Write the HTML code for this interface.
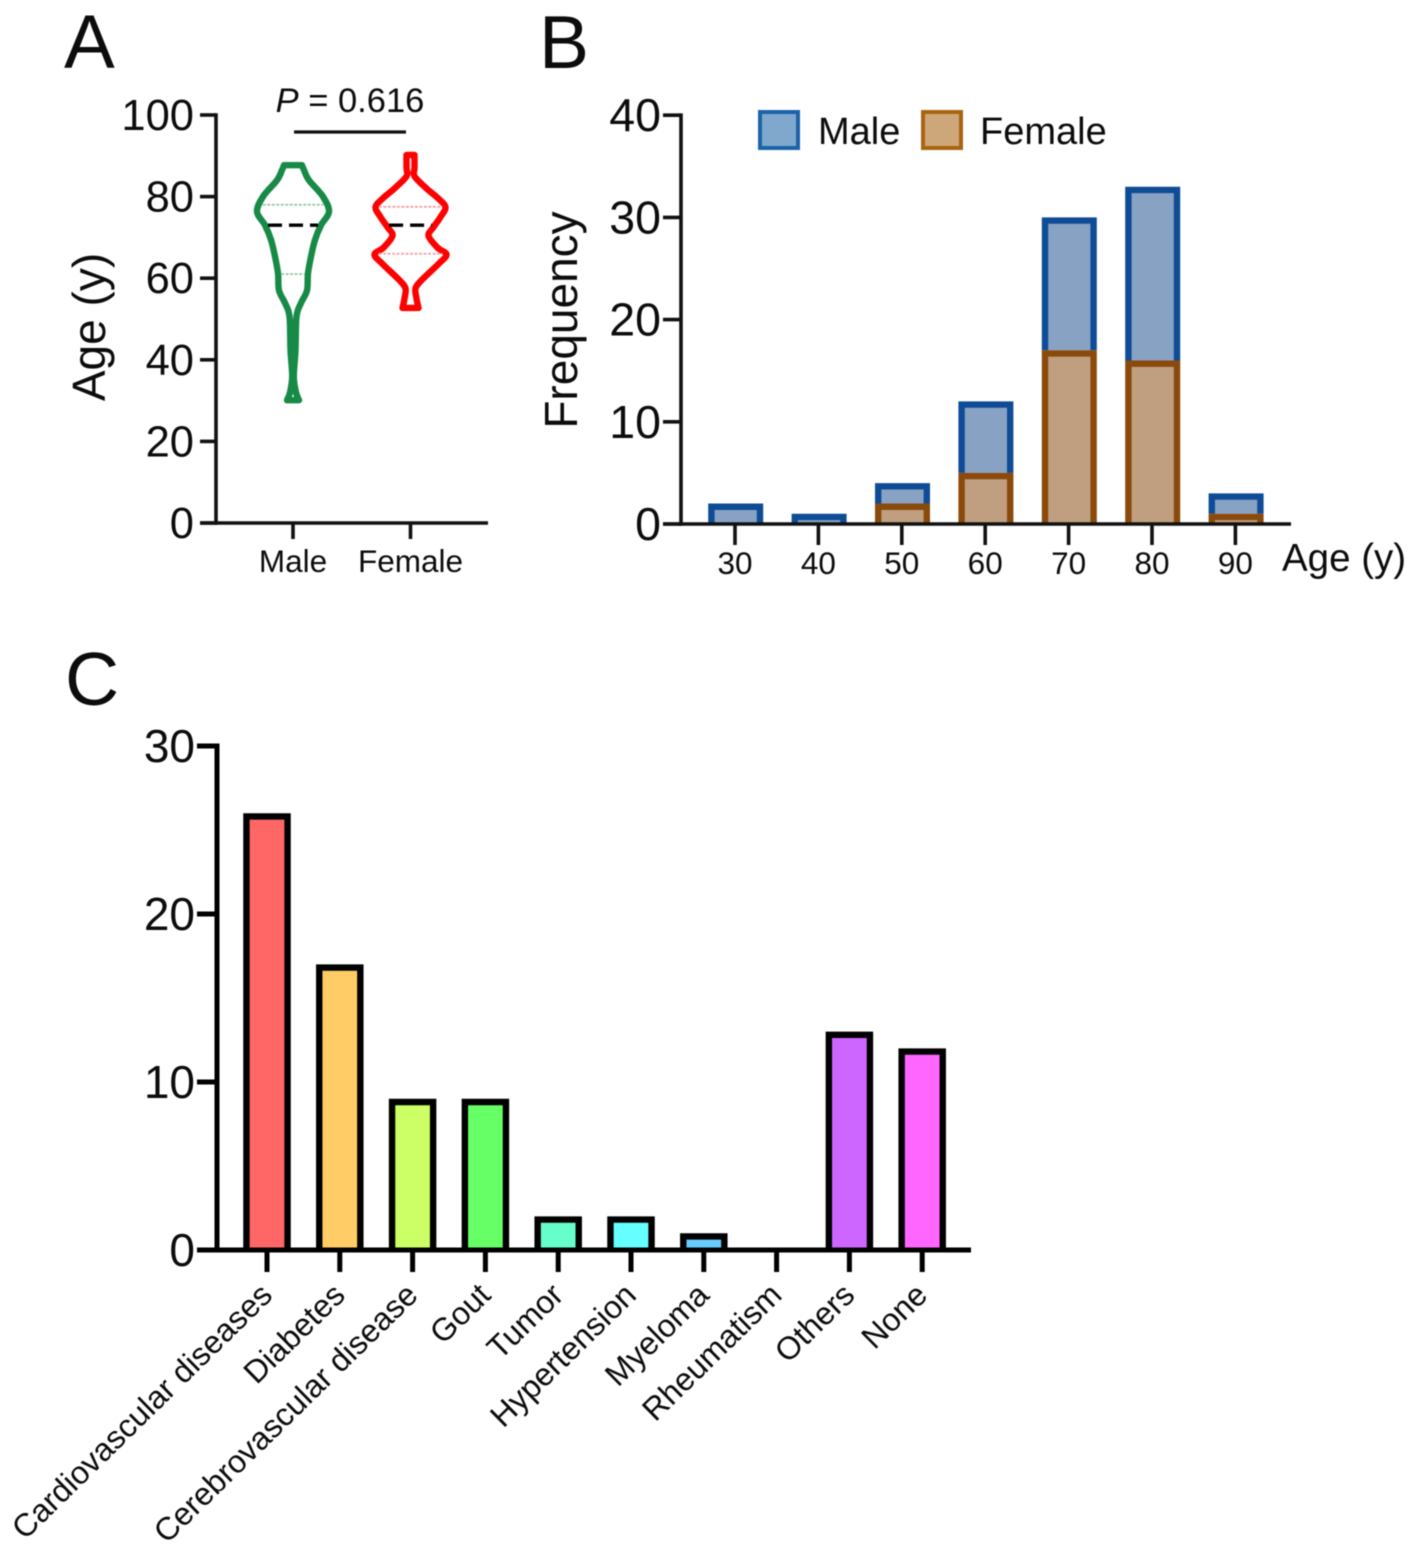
<!DOCTYPE html>
<html lang="en">
<head>
<meta charset="utf-8">
<title>Age, sex and comorbidity charts</title>
<style>
html,body{margin:0;padding:0;background:#fff;width:1418px;height:1553px;overflow:hidden}
svg{display:block;filter:blur(.6px)}
text{font-family:"Liberation Sans",Arial,sans-serif;fill:#0c0c0c}
</style>
</head>
<body>
<svg id="fig" xmlns="http://www.w3.org/2000/svg" width="1418" height="1553" viewBox="0 0 1418 1553">
  <rect width="1418" height="1553" fill="#fff"/>
  <text x="64" y="68" font-size="76">A</text>
  <text x="539" y="68" font-size="75">B</text>
  <text x="65" y="705" font-size="75">C</text>
  <text transform="translate(105,327) rotate(-90)" text-anchor="middle" font-size="46">Age (y)</text>
  <text transform="translate(577,320) rotate(-90)" text-anchor="middle" font-size="46">Frequency</text>
  <text x="1282" y="571" font-size="38.5">Age (y)</text>
  <text x="350" y="112" text-anchor="middle" font-size="34.5"><tspan font-style="italic">P</tspan> = 0.616</text>
  <line x1="294" x2="406" y1="132" y2="132" stroke="#111" stroke-width="3.2"/>
  <g>
    <rect x="760" y="112" width="38" height="36" fill="#80a8cc" stroke="#1a63a8" stroke-width="4"/>
    <text x="818" y="144" font-size="38">Male</text>
    <rect x="923" y="112" width="38" height="36" fill="#cda67a" stroke="#a8640f" stroke-width="4"/>
    <text x="980" y="144" font-size="38">Female</text>
  </g>
  <g id="panelA"></g>
  <g id="panelB"></g>
  <g id="panelC"></g>
</svg>
<script>
// Panel A data
const violinGroups = ['Male', 'Female'];
const ageTicks = [0, 20, 40, 60, 80, 100];
const maleAges = [87.7, 86.5, 84, 80, 76.3, 73, 69.4, 65.3, 61.2, 57, 53.9, 50.6, 42.4, 35.9, 32, 30.1];
const maleDensity = [9, 11, 16, 30, 36, 28, 22, 18, 15, 14, 8, 3.5, 2.5, 0.8, 3, 6];
const femaleAges = [90.2, 87, 85, 82, 79.5, 77.4, 75, 72.5, 70.4, 67.5, 65.8, 63.5, 59.5, 57.5, 55, 52.7];
const femaleDensity = [4, 4, 4, 16, 28, 35, 30, 23, 18, 27, 36, 28, 11, 5, 6, 8];
const maleQuartiles = [61, 73, 78];
const femaleQuartiles = [66, 73, 77.5];

// Panel B data
const decades = ['30', '40', '50', '60', '70', '80', '90'];
const freqTicks = [0, 10, 20, 30, 40];
const maleCounts = [2, 1, 2, 7, 13, 17, 2];
const femaleCounts = [0, 0, 2, 5, 17, 16, 1];

// Panel C data
const diseases = ['Cardiovascular diseases', 'Diabetes', 'Cerebrovascular disease', 'Gout', 'Tumor', 'Hypertension', 'Myeloma', 'Rheumatism', 'Others', 'None'];
const diseaseCounts = [26, 17, 9, 9, 2, 2, 1, 0, 13, 12];
const diseaseColors = ['#ff6666', '#ffcc66', '#ccff66', '#66ff66', '#66ffcc', '#66ffff', '#66ccff', '#6666ff', '#cc66ff', '#ff66ff'];
const diseaseTicks = [0, 10, 20, 30];

const NS = 'http://www.w3.org/2000/svg';
function make(parent, tag, props) {
  const node = document.createElementNS(NS, tag);
  for (const key in props) node.setAttribute(key, props[key]);
  parent.appendChild(node);
  return node;
}
// Open-bottomed bar: fill reaches the axis, stroke only on the top and sides.
function barPath(left, right, top, bottom) {
  const t = Math.min(top, bottom);
  return 'M' + left + ' ' + bottom + 'V' + t + 'H' + right + 'V' + bottom;
}
// Smooth curve segments through a list of [x,y] points (Catmull-Rom).
function smooth(pts) {
  let d = '';
  for (let i = 0; i < pts.length - 1; i++) {
    const p0 = pts[Math.max(i - 1, 0)];
    const p1 = pts[i];
    const p2 = pts[i + 1];
    const p3 = pts[Math.min(i + 2, pts.length - 1)];
    const c1x = p1[0] + (p2[0] - p0[0]) / 6;
    const c1y = p1[1] + (p2[1] - p0[1]) / 6;
    const c2x = p2[0] - (p3[0] - p1[0]) / 6;
    const c2y = p2[1] - (p3[1] - p1[1]) / 6;
    d += 'C' + c1x + ' ' + c1y + ' ' + c2x + ' ' + c2y + ' ' + p2[0] + ' ' + p2[1];
  }
  return d;
}

/* ---------- Panel A ---------- */
const gA = document.getElementById('panelA');
const yA = v => 523 - v * 4.08;
const xA = i => 293 + i * 117.5;
const violinStyles = [
  {ages: maleAges, dens: maleDensity, q: maleQuartiles, stroke: '#178a47', dash: '#8fc9a5', name: 'male'},
  {ages: femaleAges, dens: femaleDensity, q: femaleQuartiles, stroke: '#ff0000', dash: '#f4a0a8', name: 'female'}
];
function halfWidth(ages, dens, v) {
  for (let k = 0; k < ages.length - 1; k++) {
    if (v <= ages[k] && v >= ages[k + 1]) {
      const t = (ages[k] - v) / (ages[k] - ages[k + 1]);
      return dens[k] + (dens[k + 1] - dens[k]) * t;
    }
  }
  return 0;
}
violinStyles.forEach((s, i) => {
  const cx = xA(i);
  const right = s.ages.map((a, k) => [cx + s.dens[k], yA(a)]);
  const left = s.ages.map((a, k) => [cx - s.dens[k], yA(a)]).reverse();
  const d = 'M' + right[0][0] + ' ' + right[0][1] + smooth(right) + 'L' + left[0][0] + ' ' + left[0][1] + smooth(left) + 'Z';
  const outline = make(gA, 'path', {d: d, fill: '#fff', stroke: s.stroke, 'stroke-width': 6.4, 'stroke-linejoin': 'round'});
  
  
  s.q.forEach((v, qi) => {
    const w = halfWidth(s.ages, s.dens, v) - 3;
    const isMedian = qi === 1;
    const line = make(gA, 'line', {x1: cx - w, x2: cx + w, y1: yA(v), y2: yA(v), stroke: isMedian ? '#000' : s.dash, 'stroke-width': isMedian ? 3.4 : 1.8, 'stroke-dasharray': isMedian ? '14 7' : '3 1.5'});
    
    
  });
});
const axisYA = make(gA, 'line', {x1: 216, x2: 216, y1: yA(100) - 1.8, y2: yA(0) + 1.8, stroke: '#111', 'stroke-width': 3.6});


const axisXA = make(gA, 'line', {x1: 200, x2: 488, y1: yA(0), y2: yA(0), stroke: '#111', 'stroke-width': 3.6});


ageTicks.forEach(v => {
  const t = make(gA, 'line', {x1: 200, x2: 216, y1: yA(v), y2: yA(v), stroke: '#111', 'stroke-width': 3.6});
  
  
  const lab = make(gA, 'text', {x: 194, y: yA(v) + 15, 'text-anchor': 'end', 'font-size': 43.5});
  lab.textContent = v;
  
  
});
violinGroups.forEach((g, i) => {
  const t = make(gA, 'line', {x1: xA(i), x2: xA(i), y1: yA(0), y2: yA(0) + 16, stroke: '#111', 'stroke-width': 3.6});
  
  
  const lab = make(gA, 'text', {x: xA(i), y: 572, 'text-anchor': 'middle', 'font-size': 31.5});
  lab.textContent = g;
  
  
});

/* ---------- Panel B ---------- */
const gB = document.getElementById('panelB');
const yB = v => 524 - v * 10.22;
const xB = i => 735.7 + i * 83.4;
const barWB = 55;
const swB = 6.4;
function barB(i, lo, hi, fill, stroke, name) {
  const left = xB(i) - barWB / 2 + swB / 2;
  const right = xB(i) + barWB / 2 - swB / 2;
  const r = make(gB, 'path', {d: barPath(left, right, yB(hi) + swB / 2, yB(lo)), fill: fill, stroke: stroke, 'stroke-width': swB});
  
  
}
decades.forEach((d, i) => {
  const f = femaleCounts[i];
  const m = maleCounts[i];
  barB(i, f, f + m, '#88a2c4', '#0f4c96', 'bar-male-' + d);
  if (f > 0) barB(i, 0, f, '#bf9f7f', '#8a4a0c', 'bar-female-' + d);
});
const axisYB = make(gB, 'line', {x1: 681, x2: 681, y1: yB(40) - 1.8, y2: yB(0) + 1.8, stroke: '#111', 'stroke-width': 3.6});


const axisXB = make(gB, 'line', {x1: 663, x2: 1291, y1: yB(0), y2: yB(0), stroke: '#111', 'stroke-width': 3.6});


freqTicks.forEach(v => {
  const t = make(gB, 'line', {x1: 663, x2: 681, y1: yB(v), y2: yB(v), stroke: '#111', 'stroke-width': 3.6});
  
  
  const lab = make(gB, 'text', {x: 661, y: yB(v) + 16, 'text-anchor': 'end', 'font-size': 46.5});
  lab.textContent = v;
  
  
});
decades.forEach((d, i) => {
  const t = make(gB, 'line', {x1: xB(i) - 0.7, x2: xB(i) - 0.7, y1: yB(0), y2: yB(0) + 21, stroke: '#111', 'stroke-width': 3.6});
  
  
  const lab = make(gB, 'text', {x: xB(i) - 0.7, y: 574, 'text-anchor': 'middle', 'font-size': 31.5});
  lab.textContent = d;
  
  
});

/* ---------- Panel C ---------- */
const gC = document.getElementById('panelC');
const yC = v => 1250 - v * 16.8;
const xC = i => 267 + i * 72.8;
const barWC = 47.5;
const swC = 6.4;
diseases.forEach((d, i) => {
  const left = xC(i) - barWC / 2 + swC / 2;
  const right = xC(i) + barWC / 2 - swC / 2;
  const hasHeight = diseaseCounts[i] > 0;
  const r = make(gC, 'path', {d: barPath(left, right, yC(diseaseCounts[i]) + swC / 2, yC(0)), fill: diseaseColors[i], stroke: hasHeight ? '#000' : 'none', 'stroke-width': swC});
  
  
});
const axisYC = make(gC, 'line', {x1: 217, x2: 217, y1: yC(30) - 2.5, y2: yC(0) + 2.5, stroke: '#000', 'stroke-width': 5});


const axisXC = make(gC, 'line', {x1: 197, x2: 971, y1: yC(0), y2: yC(0), stroke: '#000', 'stroke-width': 5});


diseaseTicks.forEach(v => {
  const t = make(gC, 'line', {x1: 197, x2: 217, y1: yC(v), y2: yC(v), stroke: '#000', 'stroke-width': 5});
  
  
  const lab = make(gC, 'text', {x: 195, y: yC(v) + 16, 'text-anchor': 'end', 'font-size': 46});
  lab.textContent = v;
  
  
});
diseases.forEach((d, i) => {
  const t = make(gC, 'line', {x1: xC(i), x2: xC(i), y1: yC(0), y2: yC(0) + 22, stroke: '#000', 'stroke-width': 5});
  
  
  const lab = make(gC, 'text', {transform: 'translate(' + (xC(i) + 7) + ',1297) rotate(-44.4)', 'text-anchor': 'end', 'font-size': 32});
  lab.textContent = d;
  
  
});
</script>
</body>
</html>
